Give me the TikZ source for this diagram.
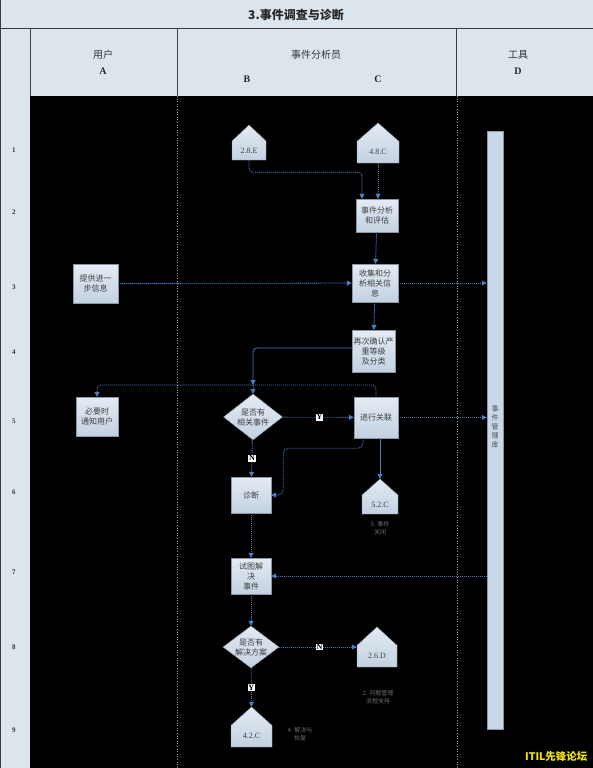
\documentclass[tikz,border=0pt]{standalone}
\usepackage{fontspec}
\setmainfont{Liberation Serif}
\newfontfamily\cjk{Noto Sans CJK SC}
\usetikzlibrary{arrows.meta,positioning,shapes.geometric}

\definecolor{headbg}{HTML}{DDE5EC}
\definecolor{boxtop}{HTML}{E4EBF3}
\definecolor{boxbot}{HTML}{C2D1E1}
\definecolor{boxline}{HTML}{8A96A3}
\definecolor{barfill}{HTML}{C9D8E8}
\definecolor{flowblue}{HTML}{4C7DC6}
\definecolor{rulegray}{HTML}{3C3C3C}
\definecolor{faintgray}{HTML}{6E6E6E}
\definecolor{markyellow}{HTML}{F2E600}

\tikzset{
  task/.style={draw=boxline, top color=boxtop, bottom color=boxbot,
    inner sep=1pt, align=center, text=black!75,
    font=\cjk\fontsize{8}{10}\selectfont},
  decide/.style={diamond, aspect=1.3, draw=boxline, top color=boxtop, bottom color=boxbot,
    inner sep=0pt, align=center, text=black!75,
    font=\cjk\fontsize{8}{10}\selectfont},
  pagelabel/.style={inner sep=0pt, text=black!75, font=\fontsize{8}{9}\selectfont},
  flow/.style={flowblue, line width=0.8pt, dash pattern=on 1.1pt off 0.9pt,
    -{Triangle[width=5pt,length=5pt]}},
  flowline/.style={flowblue, line width=0.8pt, dash pattern=on 1.1pt off 0.9pt},
  solidflow/.style={flowblue, line width=0.8pt, -{Triangle[width=5pt,length=5pt]}},
  yn/.style={fill=white, inner sep=0.8pt, text=black, font=\bfseries\fontsize{8}{8}\selectfont},
  headtext/.style={text=black!80, font=\cjk\fontsize{10}{11}\selectfont},
  letter/.style={text=black!85, font=\bfseries\fontsize{10}{11}\selectfont},
  rownum/.style={text=black!80, font=\bfseries\fontsize{7}{8}\selectfont},
  note/.style={text=faintgray, align=center, font=\cjk\fontsize{6}{8}\selectfont},
}

% off-page reference: name, x, top, bottom, half width, label
\newcommand{\offpage}[6]{%
  \pgfmathsetmacro\shy{#3+0.46*(#4-#3)}
  \draw[draw=boxline, top color=boxtop, bottom color=boxbot]
    (#2,#3) -- (#2+#5,\shy) -- (#2+#5,#4) -- (#2-#5,#4) -- (#2-#5,\shy) -- cycle;
  \node[inner sep=0pt, minimum width={2*#5}, minimum height={#4-#3}] (#1) at (#2,{(#3+#4)/2}) {};
  \node[pagelabel] (#1-t) at (#2,{(\shy+#4)/2}) {#6};
}

\begin{document}
\begin{tikzpicture}[x=1pt,y=-1pt]
\useasboundingbox (0,0) rectangle (593,768);

% frame and lanes
\fill[headbg] (0,0) rectangle (593,768);
\fill[black] (30,96) rectangle (593,768);
\draw[rulegray, line width=1pt] (0,0) rectangle (593,768);
\draw[rulegray, line width=1pt] (0,29) -- (593,29);
\foreach \sx in {30,177,456} \draw[rulegray, line width=0.8pt] (\sx,29) -- (\sx,96);
\foreach \sx in {177,457} \draw[gray!70, dotted, line width=0.6pt] (\sx,96) -- (\sx,768);

% headings
\node[text=black!85, font=\cjk\bfseries\fontsize{12}{14}\selectfont] (title) at (296,15) {3.事件调查与诊断};
\node[headtext] (laneA) at (103,55) {用户};
\node[letter] (letA) at (103,71) {A};
\node[headtext] (laneBC) at (316,55) {事件分析员};
\node[letter] (letB) at (247,79) {B};
\node[letter] (letC) at (378,79) {C};
\node[headtext] (laneD) at (518,55) {工具};
\node[letter] (letD) at (518,71) {D};

\foreach \r/\ry in {1/150,2/212,3/287,4/352,5/421,6/492,7/572,8/647,9/730}
  \node[rownum] (row\r) at (14,\ry) {\r};

% off-page references
\offpage{p28e}{249}{125}{160}{17}{2.8.E}
\offpage{p48c}{378}{123}{163}{21}{4.8.C}
\offpage{p52c}{380}{479}{514}{18}{5.2.C}
\offpage{p26d}{377}{627}{667}{20}{2.6.D}
\offpage{p42c}{251.5}{707}{747}{20.5}{4.2.C}

% steps
\node[task, minimum width=42pt, minimum height=33pt] (analyse) at (377,215.5) {事件分析\\和评估};
\node[task, minimum width=46pt, minimum height=38pt] (collect) at (375,283) {收集和分\\析相关信\\息};
\node[task, minimum width=45pt, minimum height=39pt] (supply) at (95.5,283.5) {提供进一\\步信息};
\node[task, minimum width=43pt, minimum height=42pt] (recheck) at (373.5,351) {再次确认严\\重等级\\及分类};
\node[task, minimum width=42pt, minimum height=39pt] (notify) at (97,416.5) {必要时\\通知用户};
\node[decide, minimum width=59pt, minimum height=46pt] (related) at (253,417) {是否有\\相关事件};
\node[task, minimum width=44pt, minimum height=41pt] (link) at (376,417.5) {进行关联};
\node[task, minimum width=40pt, minimum height=36pt] (diag) at (251,495) {诊断};
\node[task, minimum width=40pt, minimum height=36pt] (attempt) at (251,576) {试图解\\决\\事件};
\node[decide, minimum width=56pt, minimum height=41pt] (solved) at (251,647) {是否有\\解决方案};

% incident database
\node[draw=boxline, fill=barfill, inner sep=0pt, minimum width=16pt, minimum height=598pt] (db) at (495,430) {};
\node[align=center, text=black!70, font=\cjk\fontsize{7}{9}\selectfont] (db-t) at (495,427) {事\\件\\管\\理\\库};

% captions
\node[note] (n52c) at (380,528) {5. 事件\\关闭};
\node[note] (n26d) at (378,697) {2. 问题管理\\流程支持};
\node[note] (n42c) at (300,734) {4. 解决与\\恢复};

\coordinate (junc) at (253,385);

% connectors
\draw[flow, rounded corners=4pt] (p28e.south) -- ++(0,12) -| ([xshift=-15pt]analyse.north);
\draw[flow] (p48c.south) -- (p48c.south |- analyse.north);
\draw[flow] (analyse) -- (collect);
\draw[flow] (supply) -- (collect);
\draw[flow] (collect) -- (collect -| db.west);
\draw[flow] (collect) -- (recheck);
\draw[solidflow, rounded corners=4pt] ([yshift=3pt]recheck.west) -| (junc);
\draw[flow, rounded corners=4pt] (junc) -| (notify.north);
\draw[flowline, rounded corners=4pt] (junc) -| (link.north);
\draw[flow] (junc) -- (related.north);
\draw[flow] (related) -- node[yn, pos=0.52] (ylink) {Y} (link);
\draw[flow] (link) -- (link -| db.west);
\draw[flow] (related) -- node[yn] (ndiag) {N} (diag);
\draw[flow, rounded corners=5pt] ([xshift=-13pt]link.south) -- ++(0,10) -| ([xshift=12pt]diag.east) -- (diag.east);
\draw[solidflow] (p52c.north |- link.south) -- (p52c.north);
\draw[flow] (diag) -- (attempt);
\draw[flow] (db.west |- attempt) -- (attempt.east);
\draw[flow] (attempt) -- (solved);
\draw[flow] (solved) -- node[yn, pos=0.52] (nprob) {N} (p26d.west);
\draw[flow] (solved) -- node[yn] (yres) {Y} (p42c.north);

\node[anchor=east, text=markyellow, font=\cjk\bfseries\fontsize{10.5}{12}\selectfont] (mark) at (591,757) {ITIL先锋论坛};
\end{tikzpicture}
\end{document}
